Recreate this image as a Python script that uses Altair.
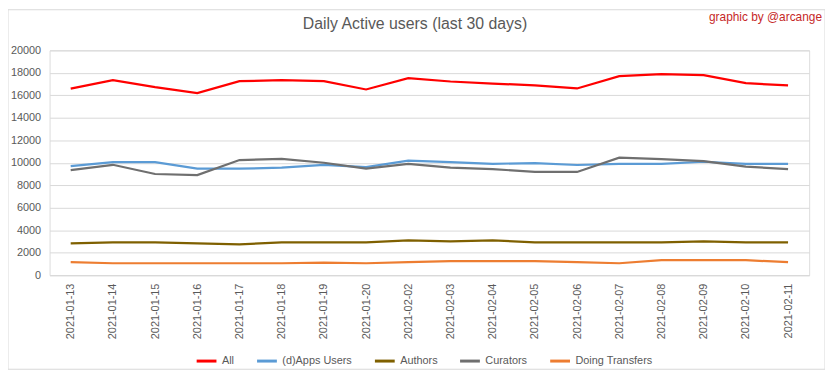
import altair as alt
import pandas as pd

dates = ["2021-01-13", "2021-01-14", "2021-01-15", "2021-01-16", "2021-01-17", "2021-01-18",
         "2021-01-19", "2021-01-20", "2021-02-02", "2021-02-03", "2021-02-04", "2021-02-05",
         "2021-02-06", "2021-02-07", "2021-02-08", "2021-02-09", "2021-02-10", "2021-02-11"]

series_names = ["All", "(d)Apps Users", "Authors", "Curators", "Doing Transfers"]
series_colors = ["#FF0000", "#5B9BD5", "#7F6000", "#6F6F6F", "#ED7D31"]

all_users = [16600, 17350, 16730, 16200, 17260, 17350, 17260, 16520, 17520,
             17230, 17050, 16880, 16610, 17700, 17880, 17790, 17080, 16880]
apps_users = [9710, 10060, 10060, 9470, 9470, 9560, 9820, 9620, 10180,
              10060, 9910, 9970, 9800, 9910, 9910, 10090, 9910, 9910]
authors = [2830, 2920, 2920, 2830, 2740, 2920, 2920, 2920, 3100,
           3000, 3100, 2920, 2920, 2920, 2920, 3000, 2920, 2920]
curators = [9350, 9820, 9000, 8910, 10240, 10350, 10000, 9470, 9910,
            9560, 9440, 9180, 9180, 10450, 10330, 10150, 9650, 9440]
transfers = [1150, 1060, 1060, 1060, 1060, 1060, 1120, 1060, 1150,
             1240, 1240, 1240, 1150, 1060, 1330, 1330, 1330, 1150]

y_ticks = list(range(0, 20001, 2000))
title_text = "Daily Active users (last 30 days)"
credit_text = "graphic by @arcange"

rows = []
for name, vals in zip(series_names, [all_users, apps_users, authors, curators, transfers]):
    for d, v in zip(dates, vals):
        rows.append({"date": d, "series": name, "value": v})
df = pd.DataFrame(rows)

FONT = "Liberation Sans"
W, H = 767, 227

lines = alt.Chart(df).mark_line(strokeWidth=2.25).encode(
    x=alt.X("date:N", sort=dates, title=None,
            axis=alt.Axis(labelAngle=-90, ticks=False, grid=False, domainColor="#D9D9D9",
                          labelColor="#595959", labelFontSize=11, labelFont=FONT, labelPadding=8)),
    y=alt.Y("value:Q", title=None, scale=alt.Scale(domain=[0, 20000], nice=False),
            axis=alt.Axis(values=y_ticks, format="d", domain=False, ticks=False, gridColor="#D9D9D9",
                          labelColor="#595959", labelFontSize=11, labelFont=FONT, labelPadding=9)),
    color=alt.Color("series:N", sort=series_names,
                    scale=alt.Scale(domain=series_names, range=series_colors),
                    legend=alt.Legend(title=None, orient="none", direction="horizontal",
                                      legendX=147, legendY=302, symbolType="stroke",
                                      symbolStrokeWidth=3, symbolSize=400,
                                      labelFontSize=11, labelFont=FONT, labelColor="#595959",
                                      columnPadding=16, symbolOffset=0)),
)

credit = alt.Chart(pd.DataFrame({"t": [credit_text]})).mark_text(
    align="right", baseline="middle", fontSize=12, font=FONT, color="#C62828"
).encode(x=alt.value(780), y=alt.value(-34), text="t:N")

title = alt.Chart(pd.DataFrame({"t": [title_text]})).mark_text(
    align="center", baseline="middle", fontSize=16, font=FONT, color="#595959"
).encode(x=alt.value(369), y=alt.value(-27), text="t:N")

border = alt.Chart(pd.DataFrame({"a": [0]})).mark_rect(
    fill=None, stroke="#D9D9D9", strokeWidth=1
).encode(x=alt.value(-42), x2=alt.value(W + 16), y=alt.value(-41), y2=alt.value(H + 95))

chart = alt.layer(border, lines, credit, title).properties(
    width=W, height=H,
    autosize=alt.AutoSizeParams(type="none"),
    padding={"left": 42, "top": 41, "right": 16, "bottom": 95},
).configure_view(stroke=None).configure(background="white")

chart.save("out.html", embed_options={"renderer": "svg", "actions": False})
